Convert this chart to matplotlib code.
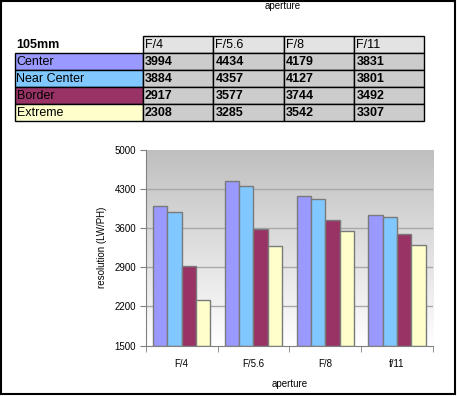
import numpy as np
import matplotlib
matplotlib.use("Agg")
import matplotlib.pyplot as plt
from matplotlib.patches import Rectangle
from matplotlib.colors import LinearSegmentedColormap

plt.rcParams['font.family'] = ['Liberation Sans', 'DejaVu Sans']

title = "105mm"
columns = ["F/4", "F/5.6", "F/8", "F/11"]
x_labels = ["F/4", "F/5.6", "F/8", "f/11"]
series = ["Center", "Near Center", "Border", "Extreme"]
center = [3994, 4434, 4179, 3831]
near_center = [3884, 4357, 4127, 3801]
border = [2917, 3577, 3744, 3492]
extreme = [2308, 3285, 3542, 3307]
values = [center, near_center, border, extreme]
colors = ["#9999ff", "#80c8ff", "#993366", "#ffffcc"]
y_ticks = [1500, 2200, 2900, 3600, 4300, 5000]

W, H = 457, 396
fig = plt.figure(figsize=(W / 100, H / 100), dpi=100)

# overlay axes in pixel coordinates for table + frame
ov = fig.add_axes([0, 0, 1, 1])
ov.set_xlim(0, W)
ov.set_ylim(H, 0)
ov.axis('off')
ov.add_patch(Rectangle((0.5, 0.5), W - 2.5, H - 2.5, fill=False, ec='black', lw=1.5))
ov.text(283, 6, "aperture", fontsize=7, ha='center', va='center')

# table
col_x = [14.5, 142.5, 213.3, 284, 354.3, 424.3]
row_y = [36, 53.3, 70.3, 87.3, 104.3, 121.3]
ov.text(col_x[0] + 2, (row_y[0] + row_y[1]) / 2 + 0.5, title, fontsize=9, fontweight='bold',
        ha='left', va='center')
for j, c in enumerate(columns):
    x0, x1 = col_x[j + 1], col_x[j + 2]
    ov.add_patch(Rectangle((x0, row_y[0]), x1 - x0, row_y[1] - row_y[0], fc='#e3e3e3', ec='black', lw=1))
    ov.text(x0 + 2, (row_y[0] + row_y[1]) / 2 + 0.5, c, fontsize=9, ha='left', va='center')
for i, s in enumerate(series):
    y0, y1 = row_y[i + 1], row_y[i + 2]
    ov.add_patch(Rectangle((col_x[0], y0), col_x[1] - col_x[0], y1 - y0, fc=colors[i], ec='black', lw=1))
    ov.text(col_x[0] + 2, (y0 + y1) / 2 + 0.5, s, fontsize=9, ha='left', va='center')
    for j in range(len(columns)):
        x0, x1 = col_x[j + 1], col_x[j + 2]
        ov.add_patch(Rectangle((x0, y0), x1 - x0, y1 - y0, fc='#cccccc', ec='black', lw=1))
        ov.text(x0 + 2, (y0 + y1) / 2 + 0.5, str(values[i][j]), fontsize=9, fontweight='bold',
                ha='left', va='center')

# chart
ax = fig.add_axes([145.7 / W, 1 - 345.7 / H, (433 - 145.7) / W, (345.7 - 149.7) / H])
ymin, ymax = y_ticks[0], y_ticks[-1]
grad = np.linspace(0, 1, 256).reshape(-1, 1)
cmap = LinearSegmentedColormap.from_list('g', ['#ffffff', '#bfbfbf'])
ax.imshow(grad, aspect='auto', cmap=cmap, origin='lower',
          extent=[-0.5, len(x_labels) - 0.5, ymin, ymax], zorder=0)
for t in y_ticks[1:-1]:
    ax.axhline(t, color='#a8a8a8', lw=1, zorder=1)
x = np.arange(len(x_labels))
bw = 0.2
for i, s in enumerate(series):
    v = np.array(values[i])
    ax.bar(x + (i - 1.5) * bw, v - ymin, bottom=ymin, width=bw, color=colors[i],
           edgecolor='#7a7a7a', lw=1, zorder=2)
ax.set_xlim(-0.5, len(x_labels) - 0.5)
ax.set_ylim(ymin, ymax)
ax.set_yticks(y_ticks)
ax.set_yticklabels([str(t) for t in y_ticks], fontsize=7)
ax.set_xticks(x)
ax.set_xticklabels(x_labels, fontsize=7)
ax.set_xticks(np.arange(len(x_labels) + 1) - 0.5, minor=True)
ax.tick_params(axis='x', which='major', length=0, pad=9.5)
ax.tick_params(axis='x', which='minor', length=4, color='#808080', direction='out')
ax.tick_params(axis='y', length=4, color='#808080', direction='out', pad=3)
for side in ['top', 'right']:
    ax.spines[side].set_visible(False)
for side in ['left', 'bottom']:
    ax.spines[side].set_color('#808080')
ax.set_ylabel("resolution (LW/PH)", fontsize=7, labelpad=5)
ax.set_xlabel("aperture", fontsize=7, labelpad=7)

fig.savefig("out.png", dpi=100)
